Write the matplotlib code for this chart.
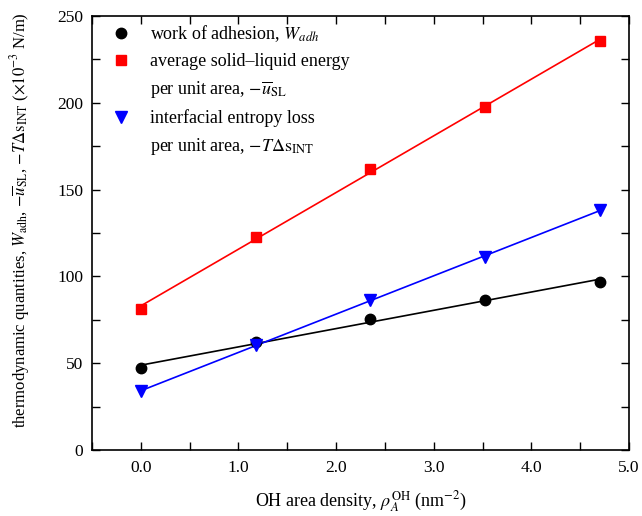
import numpy as np
import matplotlib
matplotlib.use("Agg")
import matplotlib.pyplot as plt
from matplotlib.lines import Line2D
from matplotlib.ticker import MultipleLocator, FormatStrFormatter

plt.rcParams['font.family'] = ['Liberation Serif', 'DejaVu Serif']
plt.rcParams['mathtext.fontset'] = 'stix'
plt.rcParams['font.size'] = 13

rho = [0.0, 1.18, 2.35, 3.53, 4.70]
w_adh = [47.2, 62.2, 75.3, 86.4, 97.0]
u_sl = [81.2, 122.7, 161.9, 197.6, 235.6]
t_ds = [34.0, 60.3, 86.4, 111.2, 138.2]

fig = plt.figure(figsize=(6.42, 5.16), dpi=100)
ax = fig.add_axes([0.1433, 0.128, 0.8364, 0.841])

series = [
    (w_adh, 'black', 'o', 7.5),
    (u_sl, 'red', 's', 6.5),
    (t_ds, 'blue', 'v', 8.5),
]
x = np.array(rho)
handles = []
for vals, c, m, ms in series:
    p = np.polyfit(x, vals, 1)
    ax.plot(x, np.polyval(p, x), color=c, lw=1.2, zorder=2)
    h, = ax.plot(x, vals, ls='none', marker=m, color=c, ms=ms, zorder=3)
    handles.append(h)

blank = Line2D([], [], ls='none')
leg_handles = [handles[0], handles[1], blank, handles[2], blank]
leg_labels = [
    'work of adhesion, $W_{adh}$',
    'average solid\u2013liquid energy',
    'per unit area, $-\\overline{u}_{\\mathrm{SL}}$',
    'interfacial entropy loss',
    'per unit area, $-T\\Delta\\mathrm{s}_{\\mathrm{INT}}$',
]

ax.set_xlim(-0.5, 5.0)
ax.set_ylim(0, 250)
ax.xaxis.set_major_locator(MultipleLocator(1.0))
ax.xaxis.set_minor_locator(MultipleLocator(0.5))
ax.xaxis.set_major_formatter(FormatStrFormatter('%.1f'))
ax.yaxis.set_major_locator(MultipleLocator(50))
ax.yaxis.set_minor_locator(MultipleLocator(25))
ax.tick_params(which='both', direction='in', top=True, right=True, width=1)
ax.tick_params(which='major', length=6, labelsize=12.5)
ax.tick_params(axis='y', which='major', pad=6.5)
ax.tick_params(axis='x', which='major', pad=7)
ax.tick_params(which='minor', length=6)
for s in ax.spines.values():
    s.set_linewidth(1.2)

ax.set_xlabel('OH area density, $\\rho_{A}^{\\mathrm{OH}}$ (nm$^{-2}$)', fontsize=13, labelpad=10)
ax.set_ylabel('thermodynamic quantities, $W_{\\mathrm{adh}}$, $-\\overline{u}_{\\mathrm{SL}}$, $-T\\Delta\\mathrm{s}_{\\mathrm{INT}}$ ($\\times10^{-3}$ N/m)', fontsize=12)
ax.yaxis.set_label_coords(-0.112, 0.53)

ax.legend(leg_handles, leg_labels, loc='upper left', frameon=False, fontsize=13,
          handletextpad=1.1, borderaxespad=0.0, borderpad=0.4, labelspacing=0.5,
          handlelength=1.0, bbox_to_anchor=(0.024, 1.0))

fig.savefig('out.png', dpi=100)
